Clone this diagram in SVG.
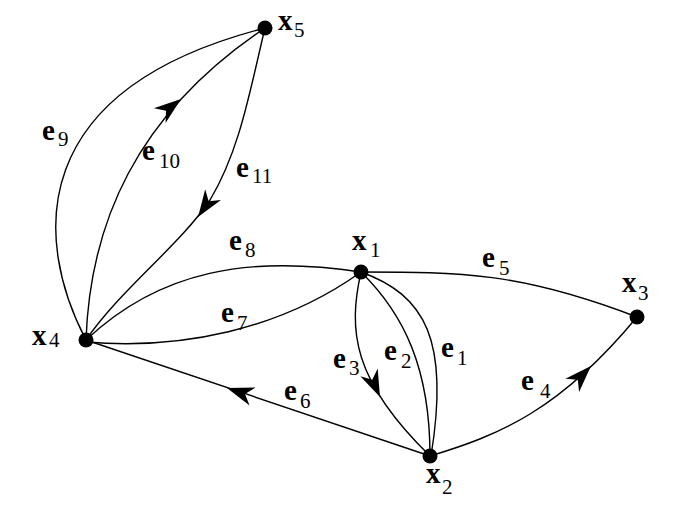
<svg xmlns="http://www.w3.org/2000/svg" xmlns:xlink="http://www.w3.org/1999/xlink" width="682" height="511" viewBox="0 0 682 511">
<style>
  .edge { fill: none; stroke: #000; stroke-width: 1.4; }
  .node { fill: #000; }
  .m { font-family: "Liberation Serif", "Times New Roman", serif; font-weight: bold; font-size: 29px; fill: #000; }
  .s { font-family: "Liberation Serif", "Times New Roman", serif; font-size: 21px; fill: #000; }
  .ah { fill: #000; }
</style>
<defs>
  <path id="ah" d="M0,0 L-27,-9.5 L-19,0 L-27,9.5 Z"/>
</defs>
<rect width="682" height="511" fill="#fff"/>
<g id="connectors">
  <path id="e1" class="edge" d="M361,272 C425,295 450,340 431,456"/>
  <path id="e2" class="edge" d="M361,272 C405,315 430,370 430,456"/>
  <path id="e3" class="edge" d="M361,272 C348,330 352,380 430,456"/>
  <path id="e4" class="edge" d="M430,456 C500,435 560,410 637,317"/>
  <path id="e5" class="edge" d="M361,272 C460,272 520,272 637,317"/>
  <path id="e6" class="edge" d="M430,456 L86,340"/>
  <path id="e7" class="edge" d="M86,342 C180,350 280,330 361,272"/>
  <path id="e8" class="edge" d="M86,340 C160,270 250,255 361,272"/>
  <path id="e9" class="edge" d="M86,340 C34,240 24,90 265,28"/>
  <path id="e10" class="edge" d="M86,340 C90,225 135,115 265,28"/>
  <path id="e11" class="edge" d="M265,28 C250,90 240,150 210,200 C180,245 120,290 86,340"/>
  <use xlink:href="#ah" class="ah" transform="translate(380,397) rotate(66)"/>
  <use xlink:href="#ah" class="ah" transform="translate(591,366) rotate(-46)"/>
  <use xlink:href="#ah" class="ah" transform="translate(227,388) rotate(198.6)"/>
  <use xlink:href="#ah" class="ah" transform="translate(181,99) rotate(-38)"/>
  <use xlink:href="#ah" class="ah" transform="translate(198,217) rotate(124)"/>
  <text><tspan class="m" x="441" y="357">e</tspan><tspan class="s" x="457" y="365">1</tspan></text>
  <text><tspan class="m" x="384" y="360">e</tspan><tspan class="s" x="401" y="368">2</tspan></text>
  <text><tspan class="m" x="333" y="368">e</tspan><tspan class="s" x="349" y="375">3</tspan></text>
  <text><tspan class="m" x="521" y="390">e</tspan><tspan class="s" x="540" y="398">4</tspan></text>
  <text><tspan class="m" x="482" y="267">e</tspan><tspan class="s" x="499" y="275">5</tspan></text>
  <text><tspan class="m" x="284" y="400">e</tspan><tspan class="s" x="300" y="408">6</tspan></text>
  <text><tspan class="m" x="221" y="322">e</tspan><tspan class="s" x="237" y="330">7</tspan></text>
  <text><tspan class="m" x="229" y="250">e</tspan><tspan class="s" x="245" y="257">8</tspan></text>
  <text><tspan class="m" x="42" y="140">e</tspan><tspan class="s" x="58" y="146">9</tspan></text>
  <text><tspan class="m" x="142" y="160">e</tspan><tspan class="s" x="159" y="168">10</tspan></text>
  <text><tspan class="m" x="236" y="177">e</tspan><tspan class="s" x="252" y="183">11</tspan></text>
</g>
<g id="x1">
  <circle class="node" cx="361" cy="272" r="7.5"/>
  <text><tspan class="m" x="352" y="250">x</tspan><tspan class="s" x="370" y="257">1</tspan></text>
</g>
<g id="x2">
  <circle class="node" cx="430" cy="456" r="7.5"/>
  <text><tspan class="m" x="426" y="483">x</tspan><tspan class="s" x="442" y="494">2</tspan></text>
</g>
<g id="x3">
  <circle class="node" cx="637" cy="317" r="7.5"/>
  <text><tspan class="m" x="622" y="292">x</tspan><tspan class="s" x="638" y="300">3</tspan></text>
</g>
<g id="x4">
  <circle class="node" cx="86" cy="340" r="7.5"/>
  <text><tspan class="m" x="32" y="345">x</tspan><tspan class="s" x="49" y="347">4</tspan></text>
</g>
<g id="x5">
  <circle class="node" cx="265" cy="28" r="7.5"/>
  <text><tspan class="m" x="278" y="30">x</tspan><tspan class="s" x="294" y="37">5</tspan></text>
</g>
</svg>
